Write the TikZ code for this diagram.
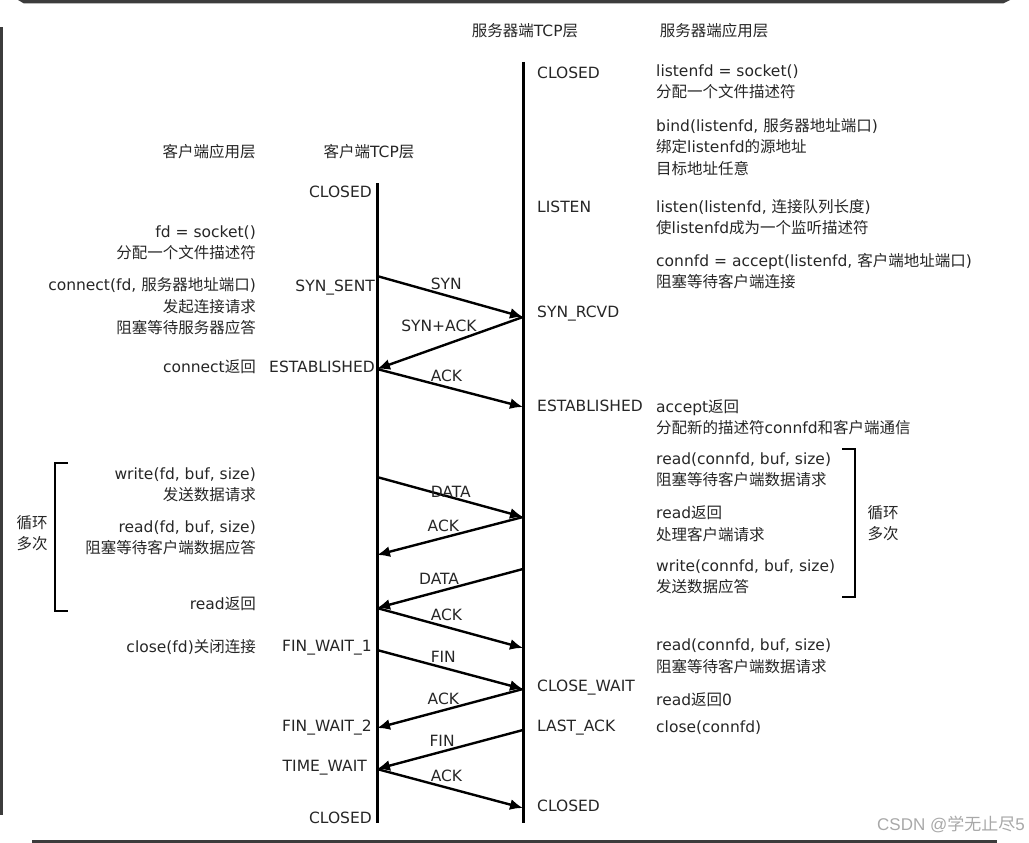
\documentclass[tikz,border=0pt]{standalone}
\usepackage{fontspec}
\setmainfont{DejaVu Sans}
\newfontfamily\cjkfont{Noto Sans CJK SC}
\newfontfamily\markfont{Liberation Sans}
\usetikzlibrary{positioning, arrows.meta, calc}
\newcommand{\zh}[1]{{\cjkfont #1}}

\definecolor{inkgray}{HTML}{262626}
\definecolor{framegray}{HTML}{3C3C3C}
\definecolor{markgray}{HTML}{A8A8A8}

\tikzset{
  lifeline/.style={line width=3pt},
  msg/.style={line width=2.4pt, -{Latex[length=13pt,width=11pt]}},
  downlbl/.style={pos=0.36, anchor=south west, inner sep=0pt, text=inkgray},
  uplbl/.style={pos=0.43, anchor=south east, inner sep=0pt, text=inkgray},
  cstate/.style={anchor=mid east, inner sep=0pt, text=inkgray},
  sstate/.style={anchor=mid west, inner sep=0pt, text=inkgray},
  % multi-line texts: the base anchor sits on the last line
  capp/.style={anchor=base east, align=right, inner sep=0pt, text=inkgray},
  sapp/.style={anchor=base west, align=left, inner sep=0pt, text=inkgray},
  header/.style={inner sep=0pt, text=inkgray},
  bracket/.style={line width=2.2pt},
}

\begin{document}
\begin{tikzpicture}[x=1pt, y=-1pt, font=\fontsize{15.5}{21.5}\selectfont]
  \useasboundingbox (0,0) rectangle (1029,843);

  % 0. Screenshot frame
  \fill[framegray] (18,0) -- (1010,0) -- (1003,3.5) -- (24,3.5) -- cycle;
  \fill[framegray] (0,27) rectangle (2.5,815);
  \fill[framegray] (32,840) rectangle (997,842.5);

  % 1. Column headers
  \node[header] (hsrvtcp) at (525,31) {\zh{服务器端}TCP\zh{层}};
  \node[header] (hsrvapp) at (714,31) {\zh{服务器端应用层}};
  \node[header] (hcliapp) at (209,152) {\zh{客户端应用层}};
  \node[header] (hclitcp) at (369,152) {\zh{客户端}TCP\zh{层}};

  % 2. Lifelines and the points where messages meet them
  \coordinate (ctop) at (377,183);
  \coordinate (cbot) at (377,823);
  \coordinate (stop) at (523,62);
  \coordinate (sbot) at (523,823);
  \draw[lifeline] (ctop) -- (cbot);
  \draw[lifeline] (stop) -- (sbot);

  \coordinate (csyn) at (377,276);
  \coordinate (cest) at (377,369);
  \coordinate (cdata) at (377,477);
  \coordinate (cack) at (377,555);
  \coordinate (cread) at (377,608);
  \coordinate (cfin1) at (377,650);
  \coordinate (cfin2) at (377,728);
  \coordinate (ctw) at (377,769);

  \coordinate (srcvd) at (523,317);
  \coordinate (sest) at (523,407);
  \coordinate (sdata) at (523,517);
  \coordinate (sdata2) at (523,569);
  \coordinate (sack) at (523,648);
  \coordinate (scw) at (523,689);
  \coordinate (slast) at (523,730);
  \coordinate (sclosed) at (523,808);

  % 3. Client TCP states
  \node[cstate] (cs1) at (372,194.5) {CLOSED};
  \node[cstate] (cs2) at (375,288.5) {SYN\_SENT};
  \node[cstate] (cs3) at (375,369.5) {ESTABLISHED};
  \node[cstate] (cs4) at (372,648.5) {FIN\_WAIT\_1};
  \node[cstate] (cs5) at (372,728.5) {FIN\_WAIT\_2};
  \node[cstate] (cs6) at (367,768.5) {TIME\_WAIT};
  \node[cstate] (cs7) at (372,820.5) {CLOSED};

  % 4. Server TCP states
  \node[sstate] (ss1) at (537,76) {CLOSED};
  \node[sstate] (ss2) at (537,209.5) {LISTEN};
  \node[sstate] (ss3) at (537,315) {SYN\_RCVD};
  \node[sstate] (ss4) at (537,409) {ESTABLISHED};
  \node[sstate] (ss5) at (537,689) {CLOSE\_WAIT};
  \node[sstate] (ss6) at (537,729) {LAST\_ACK};
  \node[sstate] (ss7) at (537,809) {CLOSED};

  % 5. Client application calls
  \node[capp] (capp1) at (256,258.5) {fd = socket()\\ \zh{分配一个文件描述符}};
  \node[capp] (capp2) at (256,333.5) {connect(fd, \zh{服务器地址端口})\\ \zh{发起连接请求}\\ \zh{阻塞等待服务器应答}};
  \node[capp] (capp3) at (256,372.5) {connect\zh{返回}};
  \node[capp] (capp4) at (256,500.5) {write(fd, buf, size)\\ \zh{发送数据请求}};
  \node[capp] (capp5) at (256,553.5) {read(fd, buf, size)\\ \zh{阻塞等待客户端数据应答}};
  \node[capp] (capp6) at (256,609.5) {read\zh{返回}};
  \node[capp] (capp7) at (256,652) {close(fd)\zh{关闭连接}};

  % 6. Server application calls
  \node[sapp] (sapp1) at (656,98) {listenfd = socket()\\ \zh{分配一个文件描述符}};
  \node[sapp] (sapp2) at (656,174.5) {bind(listenfd, \zh{服务器地址端口})\\ \zh{绑定}listenfd\zh{的源地址}\\ \zh{目标地址任意}};
  \node[sapp] (sapp3) at (656,233.5) {listen(listenfd, \zh{连接队列长度})\\ \zh{使}listenfd\zh{成为一个监听描述符}};
  \node[sapp] (sapp4) at (656,287.5) {connfd = accept(listenfd, \zh{客户端地址端口})\\ \zh{阻塞等待客户端连接}};
  \node[sapp] (sapp5) at (656,433.5) {accept\zh{返回}\\ \zh{分配新的描述符}connfd\zh{和客户端通信}};
  \node[sapp] (sapp6) at (656,485.5) {read(connfd, buf, size)\\ \zh{阻塞等待客户端数据请求}};
  \node[sapp] (sapp7) at (656,540) {read\zh{返回}\\ \zh{处理客户端请求}};
  \node[sapp] (sapp8) at (656,592.5) {write(connfd, buf, size)\\ \zh{发送数据应答}};
  \node[sapp] (sapp9) at (656,672) {read(connfd, buf, size)\\ \zh{阻塞等待客户端数据请求}};
  \node[sapp] (sapp10) at (656,705.5) {read\zh{返回}0};
  \node[sapp] (sapp11) at (656,732) {close(connfd)};

  % 7. Loop brackets
  \draw[bracket] (68,463) -- (55,463) -- (55,611) -- (68,611);
  \node[header, align=center] (lloop) at (32,533) {\zh{循环}\\ \zh{多次}};
  \draw[bracket] (842,449) -- (855,449) -- (855,597) -- (842,597);
  \node[header, align=center] (rloop) at (883,523) {\zh{循环}\\ \zh{多次}};

  % 8. Segments exchanged
  \draw[msg] (csyn) -- node[downlbl] (m1) {SYN} (srcvd);
  \draw[msg] (srcvd) -- node[uplbl, pos=0.31] (m2) {SYN+ACK} (cest);
  \draw[msg] (cest) -- node[downlbl] (m3) {ACK} (sest);
  \draw[msg] (cdata) -- node[downlbl, anchor=west] (m4) {DATA} (sdata);
  \draw[msg] (sdata) -- node[uplbl] (m5) {ACK} (cack);
  \draw[msg] (sdata2) -- node[uplbl] (m6) {DATA} (cread);
  \draw[msg] (cread) -- node[downlbl] (m7) {ACK} (sack);
  \draw[msg] (cfin1) -- node[downlbl] (m8) {FIN} (scw);
  \draw[msg] (scw) -- node[uplbl] (m9) {ACK} (cfin2);
  \draw[msg] (slast) -- node[uplbl, pos=0.46] (m10) {FIN} (ctw);
  \draw[msg] (ctw) -- node[downlbl] (m11) {ACK} (sclosed);

  % 9. Watermark
  \node[anchor=mid east, inner sep=0pt, text=markgray, font=\fontsize{17}{20}\selectfont] (mark) at (1025,828) {\markfont CSDN @\zh{学无止尽}5};
\end{tikzpicture}
\end{document}
